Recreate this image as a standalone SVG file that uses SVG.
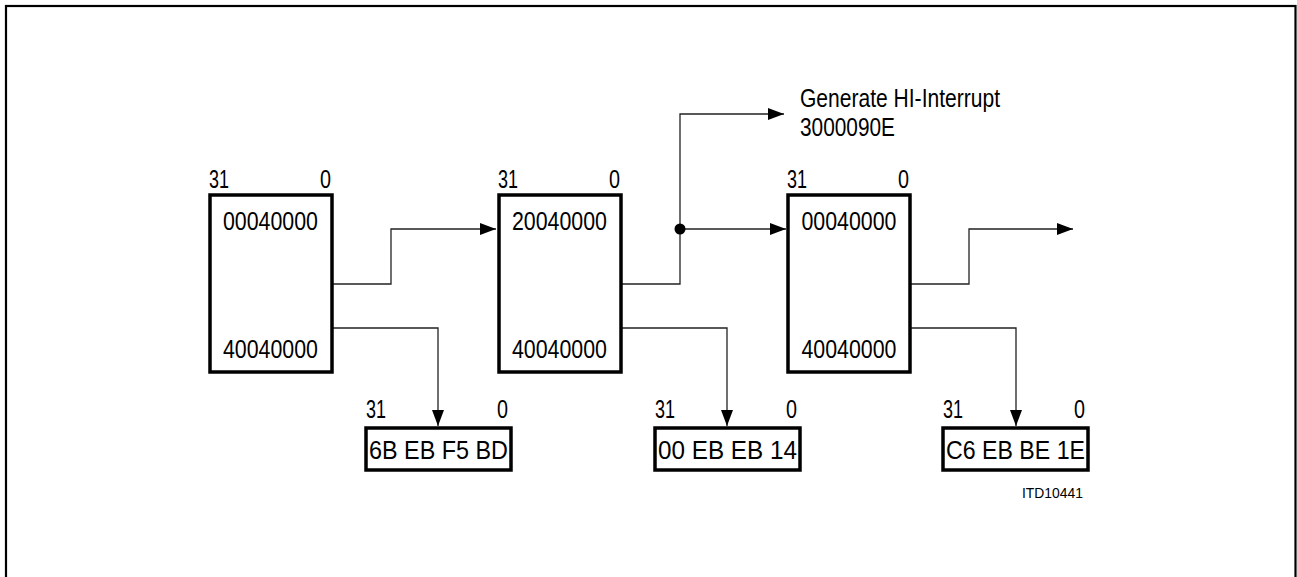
<svg xmlns="http://www.w3.org/2000/svg" width="1297" height="577" viewBox="0 0 1297 577">
<style>
text{font-family:"Liberation Sans",Arial,sans-serif;fill:#000}
.big{font-size:25px}
.reg{fill:#fff;stroke:#000;stroke-width:3.5}
.con{fill:none;stroke:#222;stroke-width:1.3}
.end{text-anchor:end}
.mid{text-anchor:middle}
</style>
<defs>
<marker id="arr" markerUnits="userSpaceOnUse" markerWidth="17" markerHeight="13" refX="16" refY="6" orient="auto">
<path d="M0,0 L16,6 L0,12 z" fill="#000"/>
</marker>
</defs>
<rect x="6" y="6" width="1289.5" height="600" fill="none" stroke="#000" stroke-width="2.2"/>
<g id="connectors">
<polyline class="con" points="333,284 391,284 391,229 496,229" marker-end="url(#arr)"/>
<polyline class="con" points="333,328 438,328 438,426" marker-end="url(#arr)"/>
<polyline class="con" points="622,284 680,284 680,114 784,114" marker-end="url(#arr)"/>
<polyline class="con" points="680,229 786,229" marker-end="url(#arr)"/>
<circle cx="680" cy="229" r="5.5" fill="#000"/>
<polyline class="con" points="622,328 727,328 727,426" marker-end="url(#arr)"/>
<polyline class="con" points="911,284 969,284 969,229 1073,229" marker-end="url(#arr)"/>
<polyline class="con" points="911,328 1016,328 1016,426" marker-end="url(#arr)"/>
</g>
<g id="reg1">
<rect class="reg" x="210" y="195" width="122" height="177"/>
<text class="big" x="209" y="188" textLength="20" lengthAdjust="spacingAndGlyphs">31</text>
<text class="big end" x="331" y="188" textLength="11" lengthAdjust="spacingAndGlyphs">0</text>
<text class="big mid" x="270.5" y="230" textLength="95" lengthAdjust="spacingAndGlyphs">00040000</text>
<text class="big mid" x="270.5" y="358" textLength="95" lengthAdjust="spacingAndGlyphs">40040000</text>
</g>
<g id="reg2">
<rect class="reg" x="499" y="195" width="122" height="177"/>
<text class="big" x="498" y="188" textLength="20" lengthAdjust="spacingAndGlyphs">31</text>
<text class="big end" x="620" y="188" textLength="11" lengthAdjust="spacingAndGlyphs">0</text>
<text class="big mid" x="559.5" y="230" textLength="95" lengthAdjust="spacingAndGlyphs">20040000</text>
<text class="big mid" x="559.5" y="358" textLength="95" lengthAdjust="spacingAndGlyphs">40040000</text>
</g>
<g id="reg3">
<rect class="reg" x="788" y="195" width="122" height="177"/>
<text class="big" x="787" y="188" textLength="20" lengthAdjust="spacingAndGlyphs">31</text>
<text class="big end" x="909" y="188" textLength="11" lengthAdjust="spacingAndGlyphs">0</text>
<text class="big mid" x="849" y="230" textLength="95" lengthAdjust="spacingAndGlyphs">00040000</text>
<text class="big mid" x="849" y="358" textLength="95" lengthAdjust="spacingAndGlyphs">40040000</text>
</g>
<g id="out1">
<rect class="reg" x="366" y="428" width="145" height="42"/>
<text class="big" x="366" y="418" textLength="20" lengthAdjust="spacingAndGlyphs">31</text>
<text class="big end" x="508" y="418" textLength="11" lengthAdjust="spacingAndGlyphs">0</text>
<text class="big mid" x="438.5" y="459" textLength="139" lengthAdjust="spacingAndGlyphs">6B  EB F5  BD</text>
</g>
<g id="out2">
<rect class="reg" x="655" y="428" width="145" height="42"/>
<text class="big" x="655" y="418" textLength="20" lengthAdjust="spacingAndGlyphs">31</text>
<text class="big end" x="797" y="418" textLength="11" lengthAdjust="spacingAndGlyphs">0</text>
<text class="big mid" x="727.5" y="459" textLength="139" lengthAdjust="spacingAndGlyphs">00  EB EB 14</text>
</g>
<g id="out3">
<rect class="reg" x="943" y="428" width="145" height="42"/>
<text class="big" x="943" y="418" textLength="20" lengthAdjust="spacingAndGlyphs">31</text>
<text class="big end" x="1085" y="418" textLength="11" lengthAdjust="spacingAndGlyphs">0</text>
<text class="big mid" x="1015.5" y="459" textLength="139" lengthAdjust="spacingAndGlyphs">C6 EB BE 1E</text>
</g>
<g id="interrupt">
<text class="big" x="800" y="107" textLength="200" lengthAdjust="spacingAndGlyphs">Generate HI-Interrupt</text>
<text class="big" x="800" y="136" textLength="95" lengthAdjust="spacingAndGlyphs">3000090E</text>
</g>
<text x="1083" y="498" class="end" font-size="15" textLength="61" lengthAdjust="spacingAndGlyphs">ITD10441</text>
</svg>
